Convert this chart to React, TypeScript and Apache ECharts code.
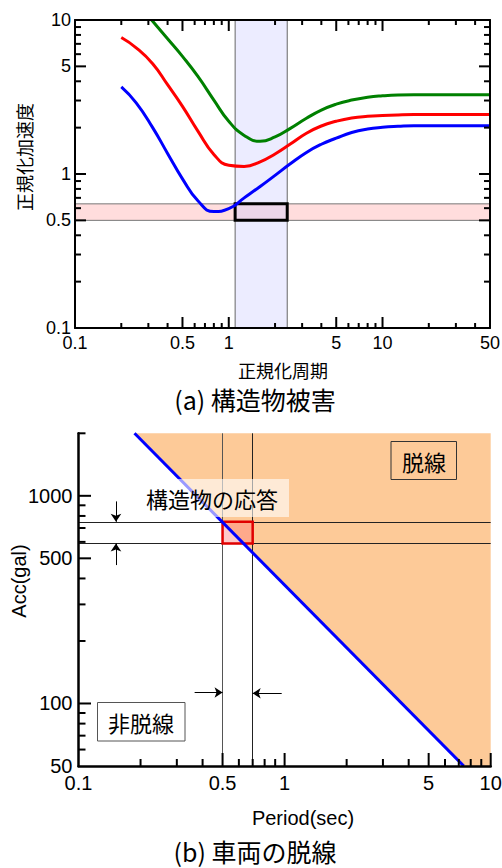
import React, { useEffect, useRef } from 'react';
import * as echarts from 'echarts';

// ---------- (a) 構造物被害 ----------
const curveX = [0.2, 0.25, 0.32, 0.4, 0.5, 0.63, 0.8, 1.0, 1.26, 1.6, 2.0, 2.5, 3.2, 4.0, 5.0, 6.3, 8.0, 10, 12.6, 16, 20, 25, 32, 40, 50];
const blueY = [3.68, 2.9, 2.0, 1.36, 0.93, 0.67, 0.57, 0.595, 0.7, 0.83, 0.98, 1.16, 1.38, 1.56, 1.71, 1.86, 1.96, 2.01, 2.04, 2.06, 2.06, 2.06, 2.06, 2.06, 2.06];
const redY = [7.7, 6.6, 5.2, 3.8, 2.75, 1.9, 1.34, 1.14, 1.12, 1.2, 1.35, 1.56, 1.84, 2.05, 2.2, 2.31, 2.37, 2.4, 2.42, 2.43, 2.43, 2.43, 2.43, 2.43, 2.43];
const greenX = [0.315, 0.4, 0.5, 0.63, 0.8, 1.0, 1.26, 1.6, 2.0, 2.5, 3.2, 4.0, 5.0, 6.3, 8.0, 10, 12.6, 16, 20, 25, 32, 40, 50];
const greenY = [10, 7.55, 5.8, 4.3, 3.02, 2.2, 1.78, 1.63, 1.74, 1.97, 2.3, 2.6, 2.84, 3.02, 3.15, 3.22, 3.26, 3.27, 3.27, 3.27, 3.27, 3.27, 3.27];
const periodBand = [1.1, 2.4];
const accBand = [0.5, 0.64];

const aXMajor = [0.5, 1, 5, 10];
const aXLabels = [0.1, 0.5, 1, 5, 10, 50];
const aXMinor = [0.2, 0.3, 0.4, 0.6, 0.7, 0.8, 0.9, 2, 3, 4, 6, 7, 8, 9, 20, 30, 40];
const aYMajor = [0.5, 1, 5];
const aYLabels = [0.1, 0.5, 1, 5, 10];
const aYMinor = [0.2, 0.3, 0.4, 0.6, 0.7, 0.8, 0.9, 2, 3, 4, 6, 7, 8, 9];

// ---------- (b) 車両の脱線 ----------
const limitT = [0.187, 7.4];
const limitA = [2000, 50];
const derailPolyT = [0.187, 7.4, 10, 10];
const derailPolyA = [2000, 50, 50, 2000];
const respT = [0.5, 0.7];
const respA = [590, 750];

const bXMajor = [0.5, 1, 5, 10];
const bXLabels = [0.1, 0.5, 1, 5, 10];
const bXMinor = [0.2, 0.3, 0.4, 0.6, 0.7, 0.8, 0.9, 2, 3, 4, 6, 7, 8, 9];
const bYMajor = [100, 500, 1000];
const bYLabels = [50, 100, 500, 1000];
const bYMinor = [60, 70, 80, 90, 200, 300, 400, 600, 700, 800, 900, 2000];

const LATIN = '"Liberation Sans", Arial, sans-serif';
const CJK = '"Noto Sans CJK JP", "Noto Sans CJK SC", sans-serif';

const GRID_A = { left: 75, top: 20, width: 415, height: 308 };
const GRID_B = { left: 78.5, top: 433.3, width: 412.2, height: 332.7 };
const A_X = [0.1, 50];
const A_Y = [0.1, 10];
const B_X = [0.1, 10];
const B_Y = [50, 2000];

const zip = (xs: number[], ys: number[]) => xs.map((x, i) => [x, ys[i]]);

function mkAxis(o: any) {
  return {
    type: 'log',
    logBase: 10,
    gridIndex: o.grid,
    position: o.position,
    min: o.min,
    max: o.max,
    z: 10,
    axisLine: { show: true, onZero: false, lineStyle: { color: '#000', width: o.lineWidth || 2 } },
    axisTick: { show: false },
    axisLabel: o.labels
      ? {
          show: true,
          customValues: o.labels,
          fontSize: o.fontSize,
          fontFamily: LATIN,
          color: '#000',
          margin: o.margin,
          formatter: (v: number) => String(+Number(v).toPrecision(6)),
        }
      : { show: false },
    splitLine: { show: false },
    minorTick: { show: false },
    minorSplitLine: { show: false },
  };
}

const txt = (x: number, y: number, text: string, fontSize: number, font: string, extra: any = {}) => ({
  type: 'text',
  x,
  y,
  z: 50,
  ...extra,
  style: { text, fontSize, fontFamily: font, fill: '#000', align: 'center', verticalAlign: 'middle', lineHeight: fontSize },
});

// tick marks for a log-scaled frame (same mapping as the grid's log axes)
function frameTicks(grid: any, xr: number[], yr: number[], specs: any[]) {
  const fx = (v: number) => grid.left + (grid.width * Math.log10(v / xr[0])) / Math.log10(xr[1] / xr[0]);
  const fy = (v: number) => grid.top + grid.height - (grid.height * Math.log10(v / yr[0])) / Math.log10(yr[1] / yr[0]);
  const bottom = grid.top + grid.height;
  const right = grid.left + grid.width;
  const w = 2;
  const els: any[] = [];
  specs.forEach((s) => {
    s.vals.forEach((v: number) => {
      let shape;
      if (s.side === 'bottom') shape = { x: fx(v) - w / 2, y: bottom - s.len, width: w, height: s.len };
      else if (s.side === 'top') shape = { x: fx(v) - w / 2, y: grid.top, width: w, height: s.len };
      else if (s.side === 'left') shape = { x: grid.left, y: fy(v) - w / 2, width: s.len, height: w };
      else shape = { x: right - s.len, y: fy(v) - w / 2, width: s.len, height: w };
      els.push({ type: 'rect', z: 40, silent: true, shape, style: { fill: '#000' } });
    });
  });
  return els;
}

export default function App() {
  const ref = useRef<HTMLDivElement>(null);
  useEffect(() => {
    document.body.style.margin = '0';
    const chart = echarts.init(ref.current!, null, { renderer: 'svg' });

    const xAxis = [
      mkAxis({ grid: 0, position: 'bottom', min: A_X[0], max: A_X[1], labels: aXLabels, fontSize: 18, margin: 6 }),
      mkAxis({ grid: 1, position: 'bottom', min: B_X[0], max: B_X[1], lineWidth: 2.5, labels: bXLabels, fontSize: 20, margin: 7 }),
      mkAxis({ grid: 0, position: 'top', min: A_X[0], max: A_X[1] }),
    ];
    const yAxis = [
      mkAxis({ grid: 0, position: 'left', min: A_Y[0], max: A_Y[1], labels: aYLabels, fontSize: 18, margin: 4 }),
      mkAxis({ grid: 1, position: 'left', min: B_Y[0], max: B_Y[1], lineWidth: 2.5, labels: bYLabels, fontSize: 20, margin: 6 }),
      mkAxis({ grid: 0, position: 'right', min: A_Y[0], max: A_Y[1] }),
    ];

    const curve = (name: string, xs: number[], ys: number[], color: string, extra: any = {}) => ({
      name,
      type: 'line',
      xAxisIndex: 0,
      yAxisIndex: 0,
      data: zip(xs, ys),
      smooth: 0.5,
      showSymbol: false,
      symbol: 'none',
      clip: true,
      z: 3,
      lineStyle: { color, width: 3 },
      ...extra,
    });

    const guideStyle = { color: '#222', width: 1, type: 'solid' };

    const tickEls = [
      ...frameTicks(GRID_A, A_X, A_Y, [
        { vals: aXMajor, side: 'bottom', len: 11 },
        { vals: aXMinor, side: 'bottom', len: 5 },
        { vals: aXMajor, side: 'top', len: 11 },
        { vals: aXMinor, side: 'top', len: 5 },
        { vals: aYMajor, side: 'left', len: 11 },
        { vals: aYMinor, side: 'left', len: 6 },
        { vals: aYMajor, side: 'right', len: 11 },
        { vals: aYMinor, side: 'right', len: 6 },
      ]),
      ...frameTicks(GRID_B, B_X, B_Y, [
        { vals: bXMajor, side: 'bottom', len: 13 },
        { vals: bXMinor, side: 'bottom', len: 7 },
        { vals: bYMajor, side: 'left', len: 12.5 },
        { vals: bYMinor, side: 'left', len: 7 },
      ]),
    ];

    const labelEls: any[] = [
      txt(24, 157, '正規化加速度', 18, CJK, { rotation: Math.PI / 2 }),
      txt(283, 370, '正規化周期', 18, CJK),
      txt(255, 399, '(a) 構造物被害', 25, CJK),
      txt(19, 581, 'Acc(gal)', 20, LATIN, { rotation: Math.PI / 2 }),
      txt(303, 818, 'Period(sec)', 20, LATIN),
      txt(255, 851, '(b) 車両の脱線', 25, CJK),
      { type: 'rect', z: 50, shape: { x: 391, y: 441.5, width: 65.5, height: 38 }, style: { fill: 'none', stroke: '#333', lineWidth: 1 } },
      txt(424, 461, '脱線', 22, CJK, { z: 51 }),
      { type: 'rect', z: 50, shape: { x: 97.5, y: 702.5, width: 87.5, height: 38.5 }, style: { fill: '#fff', stroke: '#555', lineWidth: 1 } },
      txt(141, 722, '非脱線', 22, CJK, { z: 51 }),
      { type: 'rect', z: 50, shape: { x: 140, y: 479, width: 149, height: 38 }, style: { fill: 'rgba(255,255,255,0.6)' } },
      txt(212, 498, '構造物の応答', 22, CJK, { z: 51 }),
    ];

    const option: any = {
      animation: false,
      backgroundColor: '#fff',
      grid: [
        { ...GRID_A, outerBoundsMode: 'none' },
        { ...GRID_B, outerBoundsMode: 'none' },
      ],
      xAxis,
      yAxis,
      series: [
        curve('blue', curveX, blueY, '#0000FF', {
          markArea: {
            silent: true,
            z: 1,
            data: [
              [
                { xAxis: 0.1, yAxis: accBand[0], itemStyle: { color: 'rgba(255,170,170,0.4)', borderColor: '#777', borderWidth: 1 } },
                { xAxis: 50, yAxis: accBand[1] },
              ],
              [
                { xAxis: periodBand[0], yAxis: 0.1, itemStyle: { color: 'rgba(200,200,255,0.35)', borderColor: '#666', borderWidth: 1 } },
                { xAxis: periodBand[1], yAxis: 10 },
              ],
              [
                { xAxis: periodBand[0], yAxis: accBand[0], itemStyle: { color: 'rgba(0,0,0,0)', borderColor: '#000', borderWidth: 3 } },
                { xAxis: periodBand[1], yAxis: accBand[1] },
              ],
            ],
          },
        }),
        curve('red', curveX, redY, '#FF0000'),
        curve('green', greenX, greenY, '#008000'),
        {
          name: 'derail',
          type: 'custom',
          xAxisIndex: 1,
          yAxisIndex: 1,
          z: 1,
          silent: true,
          data: [[derailPolyT[0], derailPolyA[0]]],
          renderItem: (_p: any, api: any) => ({
            type: 'polygon',
            shape: { points: derailPolyT.map((t, i) => api.coord([t, derailPolyA[i]])) },
            style: { fill: '#FDCA98' },
          }),
        },
        {
          name: 'guides',
          type: 'line',
          xAxisIndex: 1,
          yAxisIndex: 1,
          z: 3,
          data: [[respT[0], respA[1]]],
          showSymbol: false,
          symbol: 'none',
          lineStyle: { opacity: 0 },
          markArea: {
            silent: true,
            z: 3,
            data: [
              [
                { xAxis: respT[0], yAxis: respA[0], itemStyle: { color: 'rgba(255,120,120,0.4)', borderColor: '#E00000', borderWidth: 2.5 } },
                { xAxis: respT[1], yAxis: respA[1] },
              ],
            ],
          },
          markLine: {
            silent: true,
            z: 2,
            symbol: 'none',
            label: { show: false },
            lineStyle: guideStyle,
            data: [
              { yAxis: respA[0] },
              { yAxis: respA[1] },
              { xAxis: respT[0], lineStyle: { color: '#555', width: 1, type: 'solid' } },
              { xAxis: respT[1] },
            ],
          },
        },
        {
          name: 'arrows',
          type: 'line',
          xAxisIndex: 1,
          yAxisIndex: 1,
          z: 3,
          data: [[respT[0], respA[0]]],
          showSymbol: false,
          symbol: 'none',
          lineStyle: { opacity: 0 },
          markLine: {
            silent: true,
            symbol: ['none', 'arrow'],
            symbolSize: 8,
            label: { show: false },
            lineStyle: { color: '#000', width: 1, type: 'solid' },
            data: [
              [{ coord: [0.152, 940] }, { coord: [0.152, respA[1]] }],
              [{ coord: [0.152, 464] }, { coord: [0.152, respA[0]] }],
              [{ coord: [0.366, 113] }, { coord: [respT[0], 113] }],
              [{ coord: [0.968, 112] }, { coord: [respT[1], 112] }],
            ],
          },
        },
        {
          name: 'limit',
          type: 'line',
          xAxisIndex: 1,
          yAxisIndex: 1,
          z: 4,
          data: zip(limitT, limitA),
          showSymbol: false,
          symbol: 'none',
          lineStyle: { color: '#0000FF', width: 3 },
        },
      ],
      graphic: { elements: [...labelEls, ...tickEls] },
    };

    chart.setOption(option);
    return () => chart.dispose();
  }, []);
  return <div ref={ref} style={{ width: 502, height: 868 }} />;
}
